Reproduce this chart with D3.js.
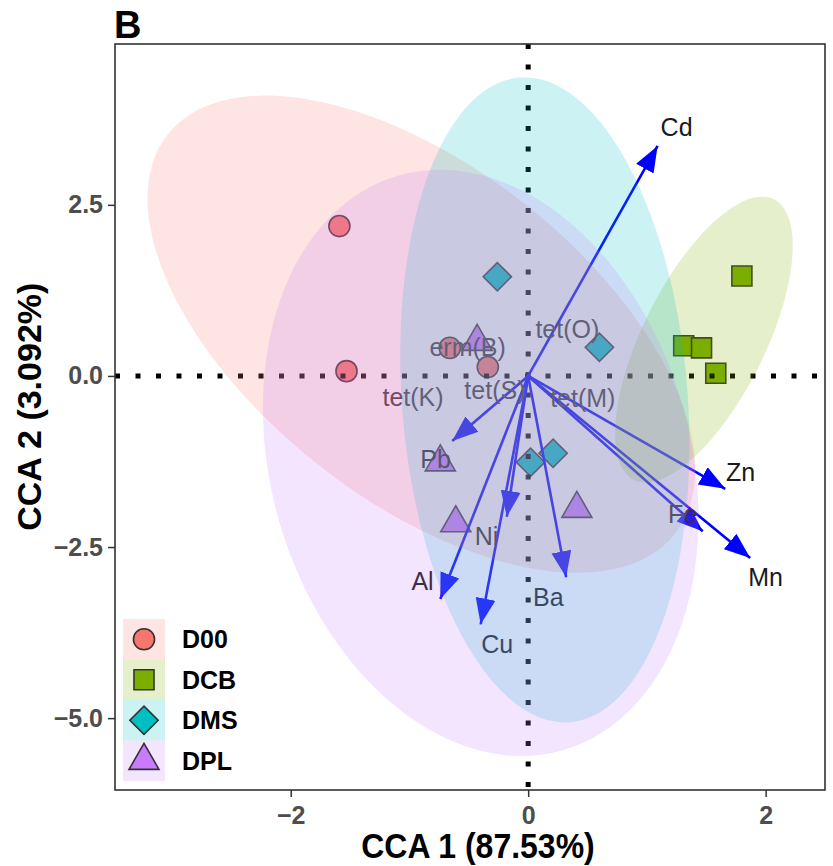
<!DOCTYPE html>
<html>
<head>
<meta charset="utf-8">
<script src="https://d3js.org/d3.v7.min.js"></script>
<style>
  body { margin: 0; background: #fff; }
  text { font-family: "Liberation Sans", Arial, sans-serif; }
  .tick text { font-size: 25px; font-weight: bold; fill: #4d4d4d; }
  .tick line { stroke: #333; stroke-width: 1.5; }
</style>
</head>
<body>
<script>
// groups and colours
var groups = ["D00", "DCB", "DMS", "DPL"];
var groupColors = ["#F8766D", "#7CAE00", "#00BFC4", "#C77CFF"];
var groupShapes = ["circle", "square", "diamond", "triangle"];

// sample scores
var sampleGroup = ["D00", "D00", "D00", "D00",
                   "DCB", "DCB", "DCB", "DCB",
                   "DMS", "DMS", "DMS", "DMS",
                   "DPL", "DPL", "DPL", "DPL"];
var sampleX = [-1.59, -1.53, -0.66, -0.34,
                1.80,  1.31,  1.46,  1.58,
               -0.26,  0.60,  0.02,  0.21,
               -0.43, -0.74, -0.61,  0.41];
var sampleY = [ 2.19,  0.07,  0.41,  0.13,
                1.46,  0.44,  0.41,  0.04,
                1.45,  0.42, -1.26, -1.13,
                0.50, -1.26, -2.15, -1.94];

// environmental arrows
var envNames  = ["Cd", "Zn", "Fe", "Mn", "Ba", "Cu", "Ni", "Al", "Pb"];
var envX      = [1.09, 1.66, 1.47, 1.87, 0.32, -0.40, -0.18, -0.74, -0.64];
var envY      = [3.36, -1.65, -2.27, -2.66, -2.94, -3.63, -2.06, -3.26, -0.95];
var envLabelX = [1.25, 1.79, 1.30, 2.00, 0.17, -0.26, -0.35, -0.89, -0.78];
var envLabelY = [3.63, -1.40, -2.02, -2.94, -3.23, -3.92, -2.34, -3.00, -1.21];

// gene labels
var geneNames = ["tet(O)", "erm(B)", "tet(K)", "tet(S)", "tet(M)"];
var geneX = [0.33, -0.51, -0.97, -0.28, 0.46];
var geneY = [0.69, 0.42, -0.31, -0.21, -0.32];

// group ellipses: centre and two conjugate semi-axes (data units)
var ellCX  = [-0.90, 1.48, 0.14, -0.40];
var ellCY  = [0.61, 0.53, -0.35, -1.27];
var ellA1x = [2.14, 0.59, 0.21, 0.69];
var ellA1y = [-2.91, 2.05, -4.71, -4.20];
var ellA2x = [-0.86, 0.46, -1.20, -1.70];
var ellA2y = [-1.92, -0.40, -0.16, -0.84];

// axis ticks
var xTicks = [-2, 0, 2];
var yTicks = [2.5, 0, -2.5, -5];

var width = 833, height = 866;
var margin = { left: 115, top: 44, right: 8, bottom: 76 };

var svg = d3.select("body").append("svg")
    .attr("width", width).attr("height", height);

var x = d3.scaleLinear().domain([-3.48, 2.50]).range([margin.left, width - margin.right]);
var y = d3.scaleLinear().domain([-6.05, 4.85]).range([height - margin.bottom, margin.top]);

var color = d3.scaleOrdinal().domain(groups).range(groupColors);
var shapeOf = d3.scaleOrdinal().domain(groups).range(groupShapes);

function symbolPath(shape) {
    if (shape === "circle") return d3.symbol(d3.symbolCircle, 350)();
    if (shape === "square") return d3.symbol(d3.symbolSquare, 400)();
    if (shape === "diamond") return d3.symbol(d3.symbolSquare, 400)();
    return d3.symbol(d3.symbolTriangle, 390)();
}
function symbolTransform(shape, px, py) {
    return "translate(" + px + "," + py + ")" + (shape === "diamond" ? " rotate(45)" : "");
}

svg.append("defs").append("clipPath").attr("id", "panel")
  .append("rect")
    .attr("x", x.range()[0]).attr("y", y.range()[1])
    .attr("width", x.range()[1] - x.range()[0])
    .attr("height", y.range()[0] - y.range()[1]);

svg.select("defs").append("marker")
    .attr("id", "head")
    .attr("markerUnits", "userSpaceOnUse")
    .attr("viewBox", "0 -11 27 22")
    .attr("refX", 26).attr("refY", 0)
    .attr("markerWidth", 27).attr("markerHeight", 22)
    .attr("orient", "auto")
  .append("path")
    .attr("d", "M0,-10L26,0L0,10Z")
    .attr("fill", "#0000ff");

var plot = svg.append("g").attr("clip-path", "url(#panel)");

// points
var samples = sampleX.map(function(d, i) {
    return { x: d, y: sampleY[i], group: sampleGroup[i] };
});
plot.selectAll(".pt")
    .data(samples)
  .enter().append("path")
    .attr("class", "pt")
    .attr("d", function(d) { return symbolPath(shapeOf(d.group)); })
    .attr("transform", function(d) { return symbolTransform(shapeOf(d.group), x(d.x), y(d.y)); })
    .attr("fill", function(d) { return color(d.group); })
    .attr("stroke", "#333")
    .attr("stroke-width", 1.6);

// dotted reference lines
plot.append("line")
    .attr("x1", x.range()[0]).attr("x2", x.range()[1])
    .attr("y1", y(0)).attr("y2", y(0))
    .attr("stroke", "#000").attr("stroke-width", 5)
    .attr("stroke-dasharray", "5,15.5");
plot.append("line")
    .attr("x1", x(0)).attr("x2", x(0))
    .attr("y1", y.range()[1]).attr("y2", y.range()[0])
    .attr("stroke", "#000").attr("stroke-width", 5)
    .attr("stroke-dasharray", "5,15.5");

// arrows
var env = envNames.map(function(d, i) {
    return { name: d, x: envX[i], y: envY[i], lx: envLabelX[i], ly: envLabelY[i] };
});
plot.selectAll(".arrow")
    .data(env)
  .enter().append("line")
    .attr("class", "arrow")
    .attr("x1", x(0)).attr("y1", y(0))
    .attr("x2", function(d) { return x(d.x); })
    .attr("y2", function(d) { return y(d.y); })
    .attr("stroke", "#0000ff").attr("stroke-width", 2.6)
    .attr("marker-end", "url(#head)");

plot.selectAll(".envlab")
    .data(env)
  .enter().append("text")
    .attr("class", "envlab")
    .attr("x", function(d) { return x(d.lx); })
    .attr("y", function(d) { return y(d.ly); })
    .attr("text-anchor", "middle")
    .attr("dy", "0.36em")
    .attr("font-size", 25)
    .attr("fill", "#1a1a1a")
    .text(function(d) { return d.name; });

plot.selectAll(".genelab")
    .data(geneNames)
  .enter().append("text")
    .attr("class", "genelab")
    .attr("x", function(d, i) { return x(geneX[i]); })
    .attr("y", function(d, i) { return y(geneY[i]); })
    .attr("text-anchor", "middle")
    .attr("dy", "0.36em")
    .attr("font-size", 25)
    .attr("fill", "#333")
    .text(function(d) { return d; });

// ellipses on top
var ellLine = d3.line().x(function(d) { return x(d[0]); }).y(function(d) { return y(d[1]); });
plot.selectAll(".ell")
    .data(groups)
  .enter().append("path")
    .attr("class", "ell")
    .attr("d", function(g, i) {
        var pts = d3.range(0, 361, 3).map(function(a) {
            var t = a * Math.PI / 180;
            return [ellCX[i] + ellA1x[i] * Math.cos(t) + ellA2x[i] * Math.sin(t),
                    ellCY[i] + ellA1y[i] * Math.cos(t) + ellA2y[i] * Math.sin(t)];
        });
        return ellLine(pts) + "Z";
    })
    .attr("fill", function(g) { return color(g); })
    .attr("fill-opacity", 0.2)
    .attr("stroke", "none");

// panel border
svg.append("rect")
    .attr("x", x.range()[0]).attr("y", y.range()[1])
    .attr("width", x.range()[1] - x.range()[0])
    .attr("height", y.range()[0] - y.range()[1])
    .attr("fill", "none").attr("stroke", "#333").attr("stroke-width", 1.6);

// axes
var gx = svg.append("g")
    .attr("transform", "translate(0," + y.range()[0] + ")")
    .call(d3.axisBottom(x).tickValues(xTicks).tickSize(7).tickPadding(9).tickFormat(d3.format("d")));
gx.select(".domain").remove();

var gy = svg.append("g")
    .attr("transform", "translate(" + x.range()[0] + ",0)")
    .call(d3.axisLeft(y).tickValues(yTicks).tickSize(7).tickPadding(5).tickFormat(d3.format(".1f")));
gy.select(".domain").remove();

// axis titles
svg.append("text")
    .attr("transform", "translate(" + ((x.range()[0] + x.range()[1]) / 2 + 8) + ",858) scale(1,1.1)")
    .attr("text-anchor", "middle")
    .attr("font-size", 32).attr("font-weight", "bold")
    .attr("fill", "#000")
    .text("CCA 1 (87.53%)");

svg.append("text")
    .attr("transform", "translate(41," + y(-0.45) + ") rotate(-90)")
    .attr("text-anchor", "middle")
    .attr("font-size", 34).attr("font-weight", "bold")
    .attr("fill", "#000")
    .text("CCA 2 (3.092%)");

// panel tag
svg.append("text")
    .attr("x", 114).attr("y", 38)
    .attr("font-family", "'Liberation Serif', 'Times New Roman', serif")
    .attr("font-size", 38).attr("font-weight", "bold")
    .text("B");

// legend
var legend = svg.append("g").attr("transform", "translate(123,619)");
var keyH = 40.5;
var rows = legend.selectAll(".key")
    .data(groups)
  .enter().append("g")
    .attr("class", "key")
    .attr("transform", function(d, i) { return "translate(0," + (i * keyH) + ")"; });
rows.append("rect")
    .attr("width", 42).attr("height", keyH)
    .attr("fill", function(d) { return color(d); })
    .attr("fill-opacity", 0.2);
rows.append("path")
    .attr("d", function(d) { return symbolPath(shapeOf(d)); })
    .attr("transform", function(d) { return symbolTransform(shapeOf(d), 21, keyH / 2); })
    .attr("fill", function(d) { return color(d); })
    .attr("stroke", "#333").attr("stroke-width", 1.6);
rows.append("text")
    .attr("x", 59).attr("y", keyH / 2)
    .attr("dy", "0.36em")
    .attr("font-size", 25).attr("font-weight", "bold")
    .attr("fill", "#000")
    .text(function(d) { return d; });
</script>
</body>
</html>
